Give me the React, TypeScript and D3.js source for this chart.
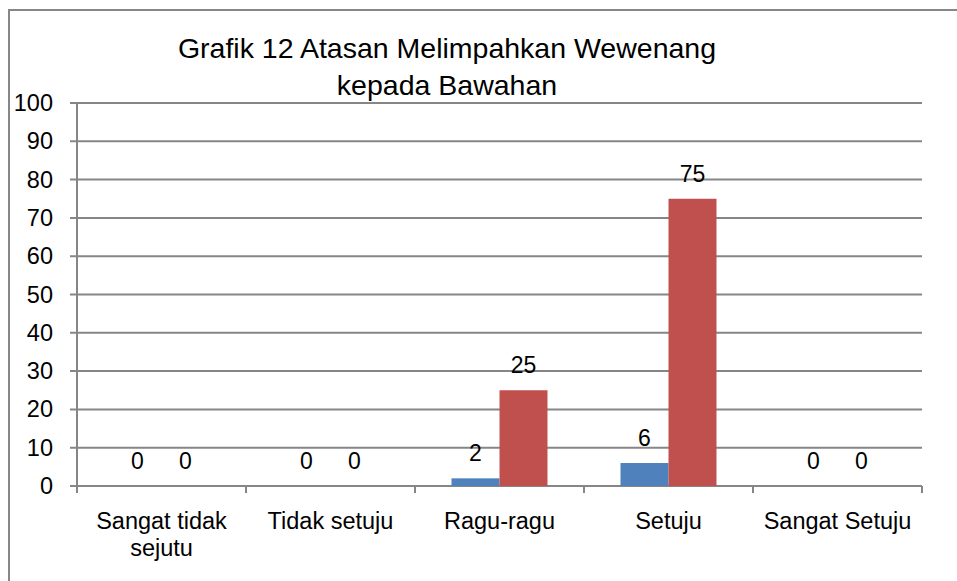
import React from "react";
import * as d3 from "d3";

const categories = ["Sangat tidak\nsejutu", "Tidak setuju", "Ragu-ragu", "Setuju", "Sangat Setuju"];
const seriesA = [0, 0, 2, 6, 0];
const seriesB = [0, 0, 25, 75, 0];
const yTicks = [0, 10, 20, 30, 40, 50, 60, 70, 80, 90, 100];
const titleLines = ["Grafik 12 Atasan Melimpahkan Wewenang", "kepada Bawahan"];

const W = 957;
const H = 581;
const margin = { top: 103, right: 35, bottom: 95, left: 77 };
const font = "'Liberation Sans', Arial, sans-serif";
const colors = ["#4F81BD", "#C0504D"];
const grey = "#868686";

const App = () => {
  const x = d3
    .scaleBand()
    .domain(categories)
    .range([margin.left, W - margin.right])
    .paddingInner(0.432)
    .paddingOuter(0.216);

  const cat = d3
    .scaleBand()
    .domain(categories)
    .range([margin.left, W - margin.right]);

  const inner = d3.scaleBand().domain(["a", "b"]).range([0, x.bandwidth()]);

  const y = d3
    .scaleLinear()
    .domain([0, 100])
    .range([H - margin.bottom, margin.top]);

  const series = [seriesA, seriesB];
  const x0 = margin.left;
  const x1 = W - margin.right;

  return (
    <svg
      width={W}
      height={H}
      style={{ position: "absolute", left: 0, top: 0, background: "#fff" }}
      fontFamily={font}
    >
      <rect x={9} y={10} width={980} height={620} fill="none" stroke="#878787" strokeWidth={2} />

      {/* title */}
      {titleLines.map((t, i) => (
        <text key={t} x={447} y={58 + i * 37} textAnchor="middle" fontSize={28.5} fill="#000">
          {t}
        </text>
      ))}

      {/* gridlines + y ticks */}
      {yTicks.map((t) => (
        <g key={t}>
          <line x1={x0 - 7} x2={x1} y1={y(t)} y2={y(t)} stroke={grey} strokeWidth={2} />
          <text x={53} y={y(t) + 8} textAnchor="end" fontSize={23.5} fill="#000">
            {t}
          </text>
        </g>
      ))}

      {/* y axis */}
      <line x1={x0} x2={x0} y1={y(100)} y2={y(0) + 7} stroke={grey} strokeWidth={2} />

      {/* x category ticks */}
      {categories.map((c) => (
        <line key={c} x1={(cat(c) ?? 0) + cat.bandwidth()} x2={(cat(c) ?? 0) + cat.bandwidth()} y1={y(0)} y2={y(0) + 7} stroke={grey} strokeWidth={2} />
      ))}

      {/* bars */}
      {series.map((s, si) =>
        s.map((v, i) => {
          const bx = (x(categories[i]) ?? 0) + (inner(si === 0 ? "a" : "b") ?? 0);
          return (
            <g key={`${si}-${i}`}>
              {v > 0 && (
                <rect x={bx} y={y(v)} width={inner.bandwidth()} height={y(0) - y(v)} fill={colors[si]} />
              )}
              <text x={bx + inner.bandwidth() / 2} y={y(v) - 17} textAnchor="middle" fontSize={23} fill="#000">
                {v}
              </text>
            </g>
          );
        })
      )}

      {/* x labels */}
      {categories.map((c) => {
        const cx = (cat(c) ?? 0) + cat.bandwidth() / 2;
        return (
          <text key={c} x={cx} y={529} textAnchor="middle" fontSize={23.5} fill="#000">
            {c.split("\n").map((l, i) => (
              <tspan key={l} x={cx} dy={i === 0 ? 0 : 27}>
                {l}
              </tspan>
            ))}
          </text>
        );
      })}
    </svg>
  );
};

export default App;
